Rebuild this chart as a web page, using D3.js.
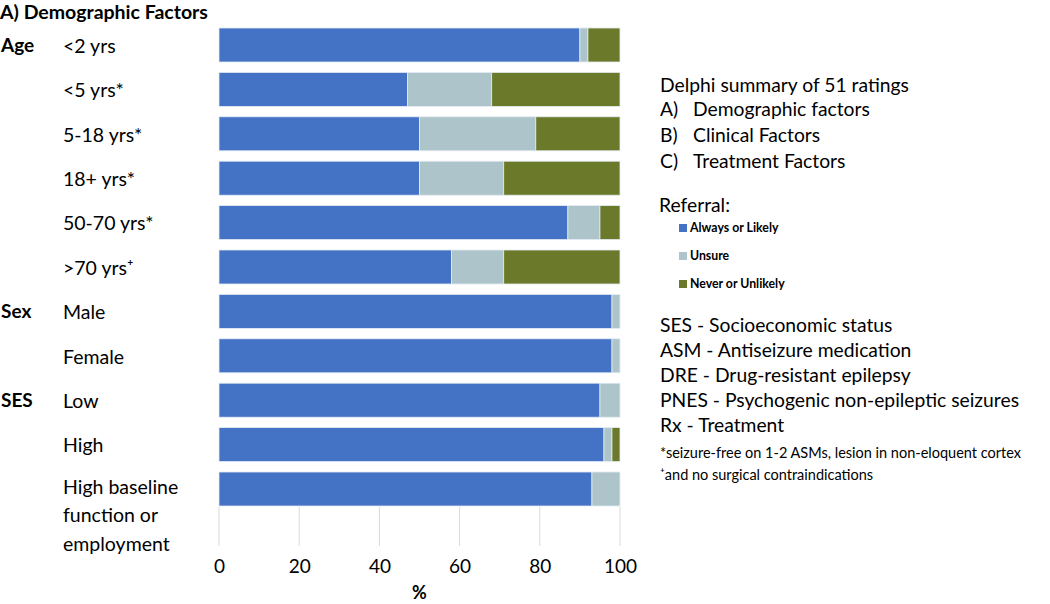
<!DOCTYPE html>
<html>
<head>
<meta charset="utf-8">
<script src="https://cdn.jsdelivr.net/npm/d3@7"></script>
<style>
  body { margin: 0; background: #fff; }
  svg { font-family: Lato, "Open Sans", sans-serif; }
</style>
</head>
<body>
<svg id="chart" width="1050" height="604"></svg>
<script>
// categories (top to bottom) and their group heading
const categories = ["<2 yrs", "<5 yrs*", "5-18 yrs*", "18+ yrs*", "50-70 yrs*", ">70 yrs\u207A",
                    "Male", "Female", "Low", "High", "High baseline function or employment"];
const groups = { "<2 yrs": "Age", "Male": "Sex", "Low": "SES" };

// percent of ratings per answer
const always = [90, 47, 50, 50, 87, 58, 98, 98, 95, 96, 93];
const unsure = [2, 21, 29, 21, 8, 13, 2, 2, 5, 2, 7];
const never  = [8, 32, 21, 29, 5, 29, 0, 0, 0, 2, 0];

const seriesNames = ["Always or Likely", "Unsure", "Never or Unlikely"];
const seriesColors = ["#4472C4", "#ADC5CA", "#6B7A2A"];
const xTicks = [0, 20, 40, 60, 80, 100];

const notesTop = ["Delphi summary of 51 ratings"];
const factorList = [["A)", "Demographic factors"], ["B)", "Clinical Factors"], ["C)", "Treatment Factors"]];
const abbreviations = ["SES - Socioeconomic status", "ASM - Antiseizure medication", "DRE - Drug-resistant epilepsy",
                       "PNES - Psychogenic non-epileptic seizures", "Rx - Treatment"];
const footnotes = ["*seizure-free on 1-2 ASMs, lesion in non-eloquent cortex", "\u207Aand no surgical contraindications"];

const svg = d3.select("#chart");

// Build stacked table
const rows = categories.map((c, i) => ({ cat: c, a: always[i], u: unsure[i], n: never[i] }));
const stack = d3.stack().keys(["a", "u", "n"])(rows);

const x = d3.scaleLinear().domain([0, 100]).range([219, 620]);
const y = d3.scaleBand().domain(categories).range([17.6, 516.4]).padding(0.234);

// gridlines below the last bar
const gridTop = y(categories[categories.length - 1]) + y.bandwidth() + 1;
svg.append("g")
    .selectAll("line")
    .data(xTicks)
    .join("line")
    .attr("x1", d => x(d)).attr("x2", d => x(d))
    .attr("y1", gridTop).attr("y2", 546)
    .attr("stroke", "#d9d9d9")
    .attr("stroke-width", 1);

// x axis labels
const xAxis = svg.append("g")
    .attr("transform", "translate(0, 552)")
    .call(d3.axisBottom(x).tickValues(xTicks).tickSize(0).tickPadding(0));
xAxis.select(".domain").remove();
xAxis.selectAll("text")
    .attr("dy", "0.35em")
    .attr("y", 14)
    .style("font-size", "19px")
    .style("font-family", "Lato, sans-serif")
    .style("fill", "#000");

svg.append("text")
    .attr("x", x(50)).attr("y", 593)
    .attr("dy", "0.35em")
    .attr("text-anchor", "middle")
    .style("font-size", "18px").style("font-weight", "bold")
    .text("%");

// Bars
svg.append("g")
    .selectAll("g")
    .data(stack)
    .join("g")
    .attr("fill", (d, i) => seriesColors[i])
    .selectAll("rect")
    .data(d => d.filter(s => s[1] - s[0] > 0))
    .join("rect")
    .attr("x", d => x(d[0]))
    .attr("y", d => y(d.data.cat))
    .attr("width", d => x(d[1]) - x(d[0]))
    .attr("height", y.bandwidth())
    .attr("stroke", "#e4ecf4")
    .attr("stroke-width", 0.8);

// Category labels
const catLabels = svg.append("g");
categories.forEach(c => {
    const cy = y(c) + y.bandwidth() / 2;
    if (c.startsWith("High baseline")) {
        ["High baseline", "function or", "employment"].forEach((line, j) => {
            catLabels.append("text")
                .attr("x", 63).attr("y", cy - 2 + j * 28.5)
                .attr("dy", "0.35em")
                .style("font-size", "19.5px")
                .text(line);
        });
    } else {
        catLabels.append("text")
            .attr("x", 63).attr("y", cy + 1)
            .attr("dy", "0.35em")
            .style("font-size", "19.5px")
            .text(c);
    }
    if (groups[c]) {
        catLabels.append("text")
            .attr("x", 1).attr("y", cy)
            .attr("dy", "0.35em")
            .style("font-size", "19px").style("font-weight", "bold")
            .text(groups[c]);
    }
});

// Title
svg.append("text")
    .attr("x", 0).attr("y", 12)
    .attr("dy", "0.35em")
    .style("font-size", "19.5px").style("font-weight", "bold")
    .text("A) Demographic Factors");

// Right-hand notes
const notes = svg.append("g").style("font-size", "19.3px");
notes.append("text").attr("x", 660).attr("y", 85).attr("dy", "0.35em").text(notesTop[0]);
factorList.forEach((f, i) => {
    notes.append("text").attr("x", 660).attr("y", 109 + i * 26).attr("dy", "0.35em").text(f[0]);
    notes.append("text").attr("x", 693).attr("y", 109 + i * 26).attr("dy", "0.35em").text(f[1]);
});
notes.append("text").attr("x", 659).attr("y", 205).attr("dy", "0.35em").text("Referral:");

// Legend
const legend = svg.append("g")
    .selectAll("g")
    .data(seriesNames)
    .join("g")
    .attr("transform", (d, i) => `translate(679, ${228 + i * 28})`);
legend.append("rect")
    .attr("x", 0).attr("y", -4).attr("width", 8).attr("height", 8)
    .attr("fill", (d, i) => seriesColors[i]);
legend.append("text")
    .attr("x", 11).attr("y", 0).attr("dy", "0.35em")
    .style("font-size", "12.3px").style("font-weight", "bold")
    .text(d => d);

abbreviations.forEach((t, i) => {
    notes.append("text").attr("x", 660).attr("y", 325 + i * 25).attr("dy", "0.35em").text(t);
});
footnotes.forEach((t, i) => {
    svg.append("text").attr("x", 660).attr("y", 453 + i * 22).attr("dy", "0.35em")
        .style("font-size", "14.5px").text(t);
});
</script>
</body>
</html>
